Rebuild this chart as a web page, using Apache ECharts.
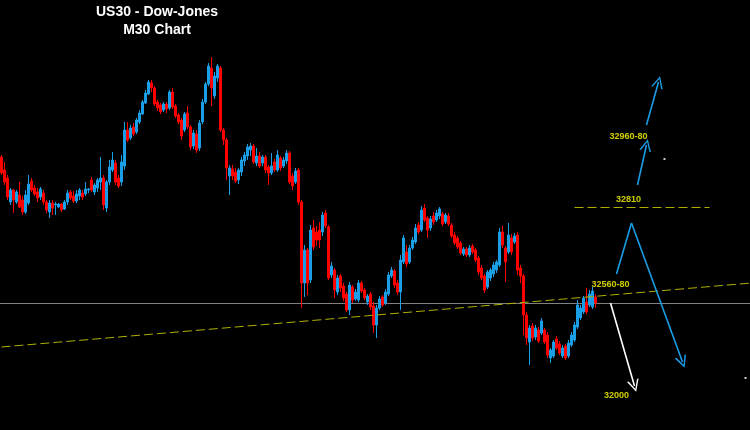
<!DOCTYPE html>
<html>
<head>
<meta charset="utf-8">
<title>US30 - Dow-Jones M30</title>
<script src="https://cdn.jsdelivr.net/npm/echarts@6/dist/echarts.min.js"></script>
<style>
  html, body { margin: 0; padding: 0; background: #000; }
  #chart { width: 750px; height: 430px; }
</style>
</head>
<body>
<div id="chart"></div>
<script>
// M30 bars (prices)
const opens = [
  32910, 32884, 32868, 32820, 32844, 32820, 32834, 32824, 32800, 32818,
  32862, 32848, 32840, 32830, 32838, 32820, 32800, 32818, 32814, 32810,
  32816, 32806, 32820, 32840, 32832, 32822, 32832, 32838, 32836, 32844,
  32864, 32840, 32848, 32860, 32868, 32808, 32860, 32884, 32898, 32868,
  32860, 32892, 32964, 32948, 32970, 32960, 32980, 32996, 33018, 33036,
  33058, 33048, 33020, 33014, 33004, 33016, 33008, 33040, 33012, 32994,
  32984, 32964, 32998, 32970, 32932, 32956, 32928, 32980, 33020, 33056,
  33088, 33032, 33068, 33088, 32964, 32944, 32872, 32886, 32880, 32864,
  32880, 32902, 32912, 32924, 32932, 32898, 32912, 32898, 32910, 32890,
  32878, 32900, 32884, 32908, 32892, 32902, 32918, 32872, 32860, 32884,
  32820, 32658, 32724, 32664, 32768, 32760, 32764, 32760, 32798, 32770,
  32674, 32684, 32640, 32672, 32652, 32636, 32604, 32650, 32626, 32624,
  32658, 32644, 32620, 32636, 32612, 32574, 32608, 32630, 32618, 32636,
  32672, 32682, 32658, 32640, 32700, 32720, 32700, 32728, 32740, 32774,
  32764, 32808, 32788, 32768, 32792, 32784, 32792, 32796, 32780, 32792,
  32774, 32754, 32748, 32738, 32716, 32726, 32714, 32732, 32724, 32708,
  32688, 32672, 32650, 32668, 32676, 32684, 32694, 32760, 32728, 32720,
  32748, 32740, 32754, 32688, 32672, 32594, 32540, 32572, 32550, 32564,
  32558, 32564, 32554, 32508, 32512, 32546, 32536, 32512, 32532, 32512,
  32534, 32544, 32570, 32588, 32600, 32620, 32614, 32610, 32630
];
const closes = [
  32878, 32860, 32830, 32844, 32824, 32840, 32810, 32800, 32834, 32856,
  32844, 32836, 32828, 32846, 32820, 32804, 32818, 32808, 32816, 32816,
  32804, 32820, 32838, 32828, 32822, 32836, 32844, 32830, 32846, 32846,
  32844, 32854, 32864, 32868, 32814, 32860, 32890, 32904, 32860, 32852,
  32900, 32964, 32944, 32968, 32956, 32984, 32998, 33020, 33038, 33060,
  33048, 33016, 33008, 33000, 33016, 33006, 33040, 33010, 32992, 32980,
  32952, 32996, 32970, 32930, 32958, 32924, 32978, 33020, 33056, 33092,
  33048, 33072, 33092, 32964, 32944, 32888, 32888, 32872, 32862, 32884,
  32904, 32914, 32930, 32932, 32900, 32912, 32892, 32910, 32884, 32878,
  32892, 32884, 32914, 32888, 32904, 32918, 32860, 32852, 32882, 32820,
  32658, 32724, 32658, 32764, 32730, 32744, 32744, 32794, 32772, 32668,
  32692, 32644, 32668, 32648, 32628, 32604, 32654, 32624, 32640, 32658,
  32642, 32628, 32632, 32610, 32574, 32608, 32626, 32614, 32640, 32674,
  32684, 32654, 32640, 32704, 32748, 32696, 32728, 32744, 32768, 32760,
  32804, 32784, 32764, 32786, 32780, 32798, 32806, 32776, 32794, 32776,
  32752, 32738, 32730, 32718, 32726, 32714, 32728, 32720, 32704, 32680,
  32668, 32644, 32680, 32684, 32694, 32700, 32760, 32734, 32700, 32754,
  32720, 32752, 32684, 32672, 32594, 32548, 32568, 32548, 32568, 32542,
  32582, 32540, 32514, 32524, 32540, 32528, 32518, 32528, 32508, 32538,
  32554, 32574, 32614, 32608, 32628, 32600, 32636, 32642, 32618
];
const lows = [
  32874, 32854, 32824, 32814, 32798, 32816, 32808, 32794, 32796, 32814,
  32840, 32832, 32820, 32824, 32814, 32798, 32788, 32794, 32794, 32808,
  32800, 32804, 32814, 32824, 32818, 32818, 32824, 32824, 32832, 32838,
  32840, 32834, 32840, 32844, 32804, 32800, 32854, 32880, 32854, 32848,
  32852, 32884, 32940, 32944, 32952, 32956, 32976, 32994, 33016, 33034,
  33040, 33012, 33002, 32996, 33000, 32998, 33004, 33006, 32988, 32976,
  32944, 32960, 32966, 32924, 32926, 32918, 32922, 32976, 33016, 33052,
  33012, 33026, 33060, 32960, 32934, 32864, 32834, 32864, 32858, 32856,
  32872, 32892, 32904, 32912, 32896, 32892, 32888, 32892, 32878, 32854,
  32874, 32880, 32880, 32882, 32888, 32896, 32856, 32844, 32856, 32814,
  32608, 32630, 32634, 32658, 32724, 32732, 32728, 32752, 32768, 32664,
  32668, 32628, 32634, 32640, 32622, 32600, 32594, 32618, 32622, 32620,
  32638, 32624, 32614, 32604, 32558, 32548, 32604, 32610, 32614, 32632,
  32668, 32648, 32634, 32604, 32696, 32690, 32696, 32724, 32736, 32756,
  32760, 32780, 32748, 32762, 32774, 32780, 32786, 32772, 32776, 32772,
  32748, 32734, 32726, 32714, 32712, 32710, 32710, 32716, 32700, 32674,
  32664, 32638, 32646, 32662, 32670, 32678, 32690, 32728, 32660, 32716,
  32714, 32736, 32674, 32658, 32554, 32534, 32494, 32542, 32544, 32538,
  32554, 32536, 32508, 32498, 32508, 32524, 32514, 32508, 32504, 32508,
  32530, 32540, 32566, 32584, 32596, 32596, 32610, 32606, 32608
];
const highs = [
  32914, 32900, 32874, 32848, 32846, 32844, 32860, 32832, 32844, 32874,
  32868, 32854, 32848, 32850, 32844, 32824, 32824, 32824, 32820, 32818,
  32818, 32824, 32844, 32844, 32842, 32844, 32848, 32844, 32860, 32848,
  32870, 32858, 32868, 32910, 32874, 32864, 32904, 32920, 32904, 32874,
  32914, 32980, 32980, 32974, 32978, 32988, 33004, 33024, 33044, 33064,
  33064, 33052, 33024, 33018, 33020, 33020, 33044, 33048, 33016, 32998,
  32988, 33000, 33012, 32974, 32964, 32964, 32984, 33026, 33060, 33098,
  33110, 33080, 33096, 33092, 32968, 32948, 32894, 32894, 32888, 32888,
  32910, 32920, 32936, 32938, 32936, 32928, 32920, 32914, 32914, 32894,
  32918, 32906, 32924, 32912, 32910, 32924, 32922, 32878, 32888, 32888,
  32824, 32734, 32728, 32774, 32784, 32772, 32780, 32800, 32804, 32774,
  32700, 32688, 32674, 32676, 32658, 32640, 32660, 32654, 32646, 32664,
  32662, 32648, 32636, 32640, 32620, 32614, 32632, 32634, 32646, 32680,
  32690, 32686, 32664, 32714, 32754, 32734, 32734, 32750, 32776, 32780,
  32812, 32816, 32792, 32792, 32800, 32804, 32810, 32800, 32798, 32798,
  32778, 32760, 32752, 32742, 32730, 32730, 32734, 32736, 32728, 32712,
  32694, 32676, 32684, 32688, 32700, 32704, 32768, 32772, 32732, 32778,
  32756, 32758, 32760, 32694, 32676, 32600, 32574, 32578, 32574, 32570,
  32588, 32568, 32560, 32528, 32544, 32552, 32542, 32534, 32536, 32544,
  32560, 32580, 32624, 32614, 32632, 32648, 32644, 32650, 32636
];

// 250 bar slots, the last ones stay empty for the projections
const slots = [];
for (let i = 0; i < 250; i++) slots.push(String(i));

const lastPrice = 32617;
// annotation points as [bar slot, price]
const zigzagUp = [[204.8, 32676], [210.2, 32778]];
const zigzagDown = [[210.2, 32778], [227.2, 32500]];
const downMove = [[202.8, 32618], [210.5, 32452]];
const upMove1 = [[212.2, 32854], [215.2, 32934]];
const upMove2 = [[214.5, 32974], [219.2, 33060]];
const trendLine = [[-0.5, 32530], [249.5, 32658]];
const level32810 = [[191.2, 32809], [236.2, 32809]];
const targetNames = ['32960-80', '32810', '32560-80', '32000'];
const targetSpots = [[208.8, 32950], [208.8, 32824], [203.2, 32654], [205.2, 32432]];
const dots = [[221.2, 32906], [248.2, 32468]];

const bars = opens.map((o, i) => [o, closes[i], lows[i], highs[i]]);
const chevron = 'path://M5,0 L10,13 L8.6,13 L5,3.2 L1.4,13 L0,13 Z';

var myChart = echarts.init(document.getElementById('chart'));
var option = {
  backgroundColor: '#000000',
  animation: false,
  title: {
    text: 'US30 - Dow-Jones\nM30 Chart',
    left: 152,
    top: -2,
    textAlign: 'center',
    textStyle: {
      color: '#ffffff',
      fontSize: 14,
      fontWeight: 'bold',
      fontFamily: 'Liberation Sans, Arial, sans-serif',
      lineHeight: 18
    }
  },
  grid: { left: 0, right: 0, top: 0, bottom: 0 },
  xAxis: {
    type: 'category',
    data: slots,
    boundaryGap: true,
    show: false
  },
  yAxis: {
    type: 'value',
    min: 32364,
    max: 33224,
    show: false,
    splitLine: { show: false }
  },
  series: [
    {
      type: 'lines',
      coordinateSystem: 'cartesian2d',
      z: 1,
      symbol: 'none',
      lineStyle: { color: '#808080', width: 1, opacity: 1 },
      data: [{ coords: [[-1, lastPrice], [251, lastPrice]] }]
    },
    {
      type: 'lines',
      coordinateSystem: 'cartesian2d',
      z: 3,
      symbol: 'none',
      lineStyle: { color: '#b0b000', width: 1, type: [9, 4], opacity: 1 },
      data: [{ coords: trendLine }]
    },
    {
      type: 'lines',
      coordinateSystem: 'cartesian2d',
      z: 3,
      symbol: 'none',
      lineStyle: { color: '#adad00', width: 1.2, type: [9, 4], opacity: 1 },
      data: [{ coords: level32810 }]
    },
    {
      type: 'candlestick',
      z: 2,
      barWidth: 2.6,
      data: bars,
      itemStyle: {
        color: '#1a9ee6',
        color0: '#ff0000',
        borderColor: '#1a9ee6',
        borderColor0: '#ff0000',
        borderWidth: 1
      }
    },
    {
      type: 'lines',
      coordinateSystem: 'cartesian2d',
      z: 4,
      symbol: 'none',
      lineStyle: { color: '#1a9ee6', width: 1.6, opacity: 1 },
      data: [{ coords: zigzagUp }]
    },
    {
      type: 'lines',
      coordinateSystem: 'cartesian2d',
      z: 4,
      symbol: ['none', chevron],
      symbolSize: [9, 12],
      lineStyle: { color: '#1a9ee6', width: 1.6, opacity: 1 },
      data: [{ coords: zigzagDown }, { coords: upMove1 }, { coords: upMove2 }]
    },
    {
      type: 'lines',
      coordinateSystem: 'cartesian2d',
      z: 4,
      symbol: ['none', chevron],
      symbolSize: [9, 12],
      lineStyle: { color: '#ffffff', width: 1.6, opacity: 1 },
      data: [{ coords: downMove }]
    },
    {
      type: 'scatter',
      z: 5,
      symbolSize: 0,
      data: targetNames.map((n, i) => ({ name: n, value: targetSpots[i] })),
      label: {
        show: true,
        position: 'inside',
        formatter: '{b}',
        color: '#ffff00',
        fontSize: 9,
        fontWeight: 'bold',
        fontFamily: 'Liberation Sans, Arial, sans-serif'
      }
    },
    {
      type: 'scatter',
      z: 5,
      symbol: 'rect',
      symbolSize: 2,
      itemStyle: { color: '#ffffff' },
      data: dots
    }
  ]
};
myChart.setOption(option);
</script>
</body>
</html>
